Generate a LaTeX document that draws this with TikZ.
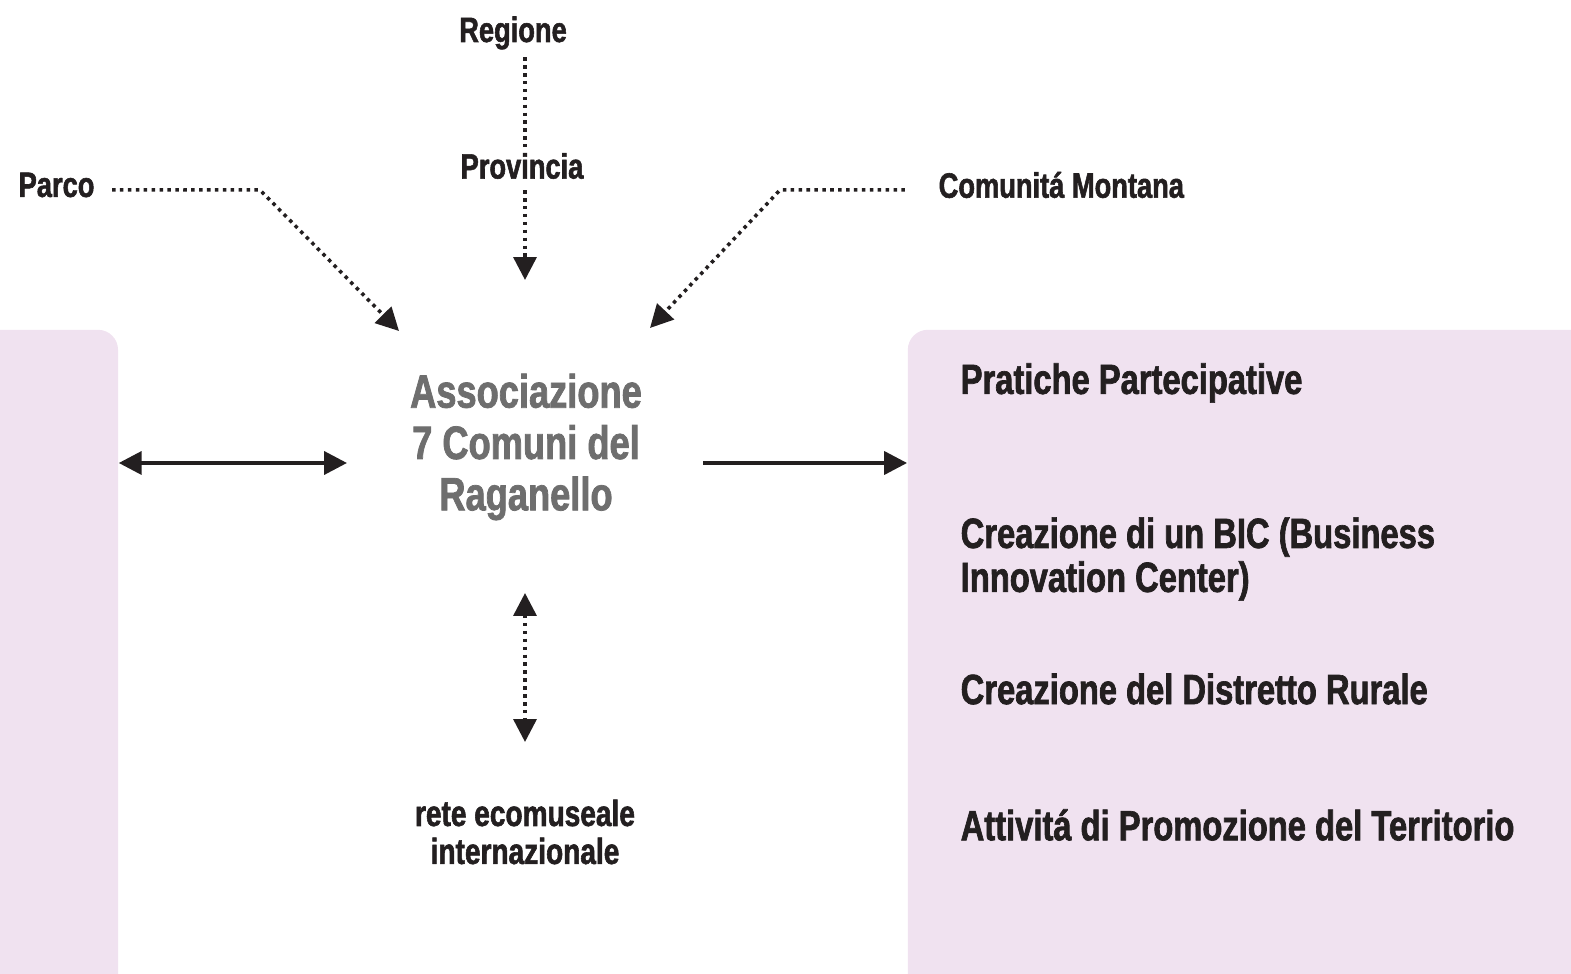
\documentclass[tikz,border=0pt]{standalone}
\usepackage{fontspec}
\newfontfamily\heavy{Liberation Sans Bold}[FakeStretch=0.775, FakeBold=1.6]
\usetikzlibrary{arrows.meta}
\definecolor{ink}{HTML}{231F20}
\definecolor{lilac}{HTML}{F0E2F0}
\definecolor{greytext}{HTML}{6E6E6E}

\begin{document}
\begin{tikzpicture}[x=0.01cm, y=-0.01cm,
    label/.style={font=\heavy\fontsize{10}{11}\selectfont, text=ink, inner sep=0pt},
    item/.style={font=\heavy\fontsize{12}{12.5}\selectfont, text=ink, anchor=west, align=left, inner sep=0pt},
    panel/.style={fill=lilac, rounded corners=5.7pt, inner sep=0pt},
    dots/.style={ink, line width=1pt, dash pattern=on 1pt off 1.25pt},
    link/.style={ink, line width=1.1pt},
    tip/.style={-{Triangle[length=6.5pt,width=6.5pt]}},
    twotips/.style={{Triangle[length=6.5pt,width=6.5pt]}-{Triangle[length=6.5pt,width=6.5pt]}}]
    \useasboundingbox (0,0) rectangle (1571,974);
    \clip (0,0) rectangle (1571,974);

    % Side panels
    \node[panel, minimum width=1.78cm, minimum height=7.1cm] (leftbox) at (29,685) {};
    \node[panel, minimum width=7.32cm, minimum height=7.1cm] (rightbox) at (1274,685) {};

    % Central node
    \node[font=\heavy\fontsize{13.3}{14.6}\selectfont, text=greytext, align=center, inner sep=0pt]
        (assoc) at (526,447) {Associazione\\7 Comuni del\\Raganello};

    % Institutions
    \node[label] (regione) at (513,33) {Regione};
    \node[label] (provincia) at (522,166) {Provincia};
    \node[label, anchor=west] (parco) at (18,185) {Parco};
    \node[label, anchor=west] (comunita) at (938,185) {Comunitá Montana};
    \node[label, font=\heavy\fontsize{10.3}{10.8}\selectfont, align=center] (rete) at (525,832) {rete ecomuseale\\internazionale};

    % Activities
    \node[item] (pratiche) at (960,383) {Pratiche Partecipative};
    \node[item] (bic) at (960,559) {Creazione di un BIC (Business\\Innovation Center)};
    \node[item] (distretto) at (960,689) {Creazione del Distretto Rurale};
    \node[item] (promo) at (960,825) {Attivitá di Promozione del Territorio};

    % Free ends
    \coordinate (axis) at (525,0);
    \coordinate (provend) at (525,280);
    \coordinate (parcoend) at (399,331);
    \coordinate (comend) at (650,328);
    \coordinate (lin) at (347,463);
    \coordinate (rout) at (703,463);
    \coordinate (retetop) at (525,593);
    \coordinate (retebot) at (525,742);

    % Dotted connectors
    \draw[dots] ([yshift=-2pt]regione.south -| axis) -- ([yshift=1.5pt]provincia.north -| axis);
    \draw[dots, tip] ([yshift=-3pt]provincia.south -| axis) -- (provend);
    \draw[dots, tip] ([xshift=4.8pt,yshift=-1.4pt]parco.east) -- (260,190) -- (parcoend);
    \draw[dots, tip] ([xshift=-9.4pt,yshift=-1.4pt]comunita.west) -- (780,190) -- (comend);
    \draw[dots, twotips] (retetop) -- (retebot);

    % Solid connectors
    \draw[link, twotips] (leftbox.east |- lin) -- (lin);
    \draw[link, tip] (rout) -- (rightbox.west |- rout);
\end{tikzpicture}
\end{document}
